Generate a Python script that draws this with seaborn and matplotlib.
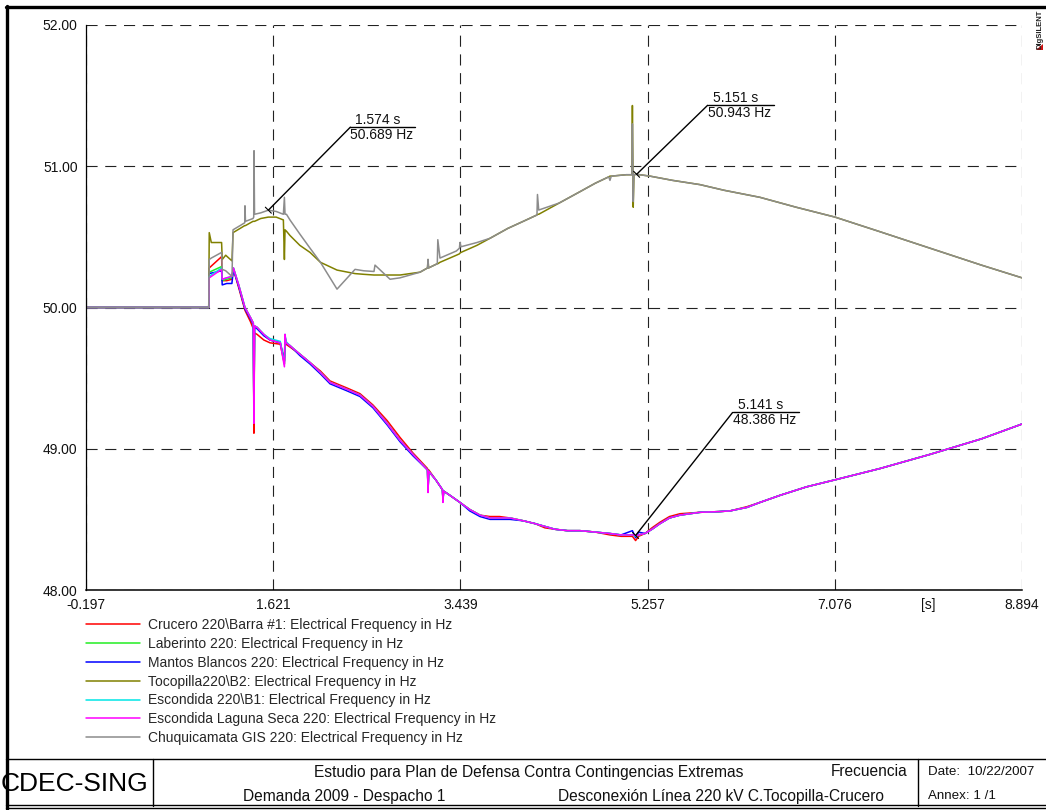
import matplotlib
matplotlib.use("Agg")
import matplotlib.pyplot as plt
import matplotlib.ticker as mticker
from matplotlib.lines import Line2D
from matplotlib.patches import Polygon
import pandas as pd
import seaborn as sns

# ---------------------------------------------------------------- data
SERIES = [
    "Crucero 220\\Barra #1: Electrical Frequency in Hz",
    "Laberinto 220: Electrical Frequency in Hz",
    "Mantos Blancos 220: Electrical Frequency in Hz",
    "Tocopilla220\\B2: Electrical Frequency in Hz",
    "Escondida 220\\B1: Electrical Frequency in Hz",
    "Escondida Laguna Seca 220: Electrical Frequency in Hz",
    "Chuquicamata GIS 220: Electrical Frequency in Hz",
]
COLORS = ["#ff0000", "#22ee22", "#0000ff", "#808000", "#00e5e5", "#ff00ff", "#8c8c8c"]

# time base (s) of the southern buses (falling frequency)
T_LOW = [-0.197, 0.995, 1.000, 1.060, 1.120, 1.126, 1.170, 1.220, 1.235, 1.290,
         1.347, 1.400, 1.428, 1.434, 1.440, 1.464, 1.530, 1.590, 1.690, 1.730,
         1.736, 1.745, 1.784, 1.880, 1.979, 2.080, 2.173, 2.338, 2.464, 2.590,
         2.727, 2.853, 2.979, 3.120, 3.125, 3.132, 3.200, 3.265, 3.270, 3.277,
         3.338, 3.435, 3.530, 3.630, 3.727, 3.820, 3.921, 4.050, 4.164, 4.260,
         4.358, 4.480, 4.601, 4.750, 4.892, 5.000, 5.110, 5.141, 5.170, 5.232,
         5.300, 5.378, 5.470, 5.572, 5.766, 5.950, 6.058, 6.223, 6.349, 6.543,
         6.800, 7.078, 7.515, 8.000, 8.500, 8.894]

F_CRUCERO = [50.00, 50.00, 50.28, 50.32, 50.36, 50.19, 50.19, 50.20, 50.27, 50.13,
             49.98, 49.90, 49.85, 49.11, 49.82, 49.81, 49.77, 49.75, 49.74, 49.60,
             49.78, 49.74, 49.72, 49.67, 49.61, 49.55, 49.48, 49.43, 49.39, 49.31,
             49.20, 49.08, 48.97, 48.86, 48.70, 48.85, 48.78, 48.71, 48.64, 48.70,
             48.67, 48.62, 48.57, 48.53, 48.52, 48.52, 48.51, 48.49, 48.47, 48.44,
             48.43, 48.42, 48.42, 48.41, 48.39, 48.38, 48.38, 48.35, 48.38, 48.40,
             48.44, 48.48, 48.52, 48.54, 48.55, 48.555, 48.56, 48.59, 48.62, 48.67,
             48.73, 48.78, 48.86, 48.96, 49.07, 49.175]

F_LABERINTO = [50.00, 50.00, 50.25, 50.27, 50.29, 50.19, 50.20, 50.21, 50.28, 50.15,
               50.00, 49.93, 49.89, 49.20, 49.87, 49.86, 49.81, 49.77, 49.75, 49.62,
               49.80, 49.75, 49.73, 49.67, 49.61, 49.54, 49.47, 49.42, 49.38, 49.30,
               49.18, 49.06, 48.96, 48.85, 48.72, 48.84, 48.78, 48.71, 48.65, 48.70,
               48.67, 48.62, 48.57, 48.53, 48.51, 48.51, 48.51, 48.49, 48.47, 48.45,
               48.43, 48.42, 48.42, 48.41, 48.40, 48.39, 48.39, 48.38, 48.39, 48.40,
               48.43, 48.47, 48.51, 48.53, 48.55, 48.555, 48.56, 48.585, 48.62, 48.67,
               48.73, 48.78, 48.86, 48.96, 49.07, 49.175]

F_MANTOS = [50.00, 50.00, 50.24, 50.25, 50.26, 50.16, 50.17, 50.17, 50.27, 50.14,
            49.99, 49.92, 49.88, 49.22, 49.86, 49.85, 49.80, 49.77, 49.75, 49.62,
            49.80, 49.75, 49.73, 49.66, 49.60, 49.53, 49.46, 49.41, 49.37, 49.29,
            49.17, 49.05, 48.95, 48.85, 48.70, 48.84, 48.78, 48.71, 48.64, 48.70,
            48.67, 48.62, 48.56, 48.52, 48.50, 48.50, 48.50, 48.49, 48.47, 48.45,
            48.43, 48.42, 48.42, 48.41, 48.40, 48.39, 48.42, 48.37, 48.41, 48.40,
            48.43, 48.47, 48.51, 48.53, 48.55, 48.555, 48.56, 48.585, 48.62, 48.67,
            48.73, 48.78, 48.86, 48.96, 49.07, 49.175]

F_ESCONDIDA = [50.00, 50.00, 50.22, 50.25, 50.28, 50.20, 50.21, 50.22, 50.28, 50.15,
               50.00, 49.93, 49.89, 49.19, 49.87, 49.86, 49.81, 49.78, 49.76, 49.60,
               49.81, 49.76, 49.73, 49.67, 49.61, 49.54, 49.47, 49.42, 49.38, 49.30,
               49.18, 49.06, 48.96, 48.85, 48.70, 48.84, 48.78, 48.71, 48.63, 48.70,
               48.67, 48.62, 48.57, 48.53, 48.51, 48.51, 48.51, 48.49, 48.47, 48.45,
               48.43, 48.42, 48.42, 48.41, 48.40, 48.39, 48.39, 48.38, 48.39, 48.40,
               48.43, 48.47, 48.51, 48.53, 48.55, 48.555, 48.56, 48.585, 48.62, 48.67,
               48.73, 48.78, 48.86, 48.96, 49.07, 49.175]

F_LAGUNA = [50.00, 50.00, 50.21, 50.24, 50.27, 50.20, 50.21, 50.22, 50.28, 50.15,
            50.00, 49.93, 49.89, 49.18, 49.87, 49.86, 49.81, 49.77, 49.75, 49.58,
            49.81, 49.75, 49.73, 49.67, 49.61, 49.54, 49.47, 49.42, 49.38, 49.30,
            49.18, 49.06, 48.96, 48.85, 48.69, 48.84, 48.78, 48.71, 48.62, 48.70,
            48.67, 48.62, 48.57, 48.53, 48.51, 48.51, 48.51, 48.49, 48.47, 48.45,
            48.43, 48.42, 48.42, 48.41, 48.40, 48.39, 48.39, 48.386, 48.39, 48.40,
            48.43, 48.47, 48.51, 48.53, 48.55, 48.555, 48.56, 48.585, 48.62, 48.67,
            48.73, 48.78, 48.86, 48.96, 49.07, 49.175]

# time base (s) of the northern buses (rising frequency)
T_UP = [-0.197, 0.995, 1.000, 1.020, 1.120, 1.126, 1.160, 1.190, 1.221, 1.231,
        1.300, 1.345, 1.347, 1.352, 1.425, 1.432, 1.435, 1.440, 1.500, 1.574,
        1.650, 1.720, 1.730, 1.736, 1.750, 1.784, 1.880, 1.979, 2.080, 2.241,
        2.416, 2.500, 2.600, 2.610, 2.756, 2.853, 3.047, 3.120, 3.125, 3.130,
        3.215, 3.220, 3.241, 3.400, 3.430, 3.435, 3.445, 3.600, 3.727, 3.900,
        4.050, 4.183, 4.188, 4.200, 4.400, 4.601, 4.750, 4.880, 4.892, 4.905,
        5.050, 5.105, 5.110, 5.118, 5.125, 5.151, 5.281, 5.500, 5.766, 6.000,
        6.349, 6.700, 7.078, 7.500, 8.000, 8.500, 8.894]

F_TOCOPILLA = [50.00, 50.00, 50.53, 50.46, 50.46, 50.34, 50.37, 50.35, 50.33, 50.53,
               50.56, 50.58, 50.58, 50.58, 50.61, 50.61, 50.61, 50.61, 50.63, 50.64,
               50.64, 50.62, 50.34, 50.55, 50.54, 50.51, 50.44, 50.39, 50.32, 50.265,
               50.24, 50.235, 50.23, 50.23, 50.23, 50.23, 50.25, 50.28, 50.34, 50.28,
               50.31, 50.31, 50.32, 50.37, 50.38, 50.385, 50.39, 50.44, 50.49, 50.56,
               50.61, 50.655, 50.66, 50.66, 50.74, 50.82, 50.88, 50.925, 50.93, 50.93,
               50.94, 50.94, 51.43, 50.71, 50.94, 50.943, 50.93, 50.90, 50.87, 50.83,
               50.78, 50.71, 50.64, 50.54, 50.42, 50.30, 50.21]

F_CHUQUI = [50.00, 50.00, 50.34, 50.35, 50.39, 50.27, 50.26, 50.24, 50.22, 50.55,
            50.58, 50.60, 50.72, 50.61, 50.63, 50.64, 51.11, 50.66, 50.67, 50.689,
            50.68, 50.66, 50.78, 50.66, 50.66, 50.62, 50.52, 50.42, 50.32, 50.13,
            50.27, 50.26, 50.255, 50.30, 50.20, 50.21, 50.25, 50.28, 50.34, 50.28,
            50.31, 50.48, 50.35, 50.40, 50.42, 50.46, 50.43, 50.46, 50.49, 50.56,
            50.61, 50.655, 50.80, 50.69, 50.74, 50.82, 50.88, 50.925, 50.90, 50.93,
            50.94, 50.94, 51.30, 50.75, 50.94, 50.943, 50.93, 50.90, 50.87, 50.83,
            50.78, 50.71, 50.64, 50.54, 50.42, 50.30, 50.21]

CURVES = [
    (T_LOW, F_CRUCERO), (T_LOW, F_LABERINTO), (T_LOW, F_MANTOS), (T_UP, F_TOCOPILLA),
    (T_LOW, F_ESCONDIDA), (T_LOW, F_LAGUNA), (T_UP, F_CHUQUI),
]

# axis ticks
X_TICKS = [-0.197, 1.621, 3.439, 5.257, 7.076, 8.894]
X_MINOR = [0.712, 2.530, 4.348, 6.1665, 7.985]
X_MINOR_LABELS = ["", "", "", "", "[s]"]
Y_TICKS = [48.0, 49.0, 50.0, 51.0, 52.0]
Y_MINOR = [48.5, 49.5, 50.5, 51.5]

# cursor readouts: (series index, time)
CURSORS = [(6, 1.574), (6, 5.151), (5, 5.141)]
CURSOR_OFFSETS = [(82, 83, 65), (71, 69, 66), (97, 123, 66)]  # px right, px up, underline length

# ---------------------------------------------------------------- style
W, H = 1046, 810
sns.set_theme(style="white")
plt.rcParams["font.family"] = ["Liberation Sans", "DejaVu Sans"]
plt.rcParams["lines.scale_dashes"] = False

fig = plt.figure(figsize=(W / 100, H / 100), dpi=100)
fig.patch.set_facecolor("white")


def fx(px):
    return px / W


def fy(py):
    return 1 - py / H


ax = fig.add_axes([fx(86), fy(590), fx(1022) - fx(86), fy(25) - fy(590)])
ax.set_facecolor("white")

frames = []
for name, (t, f) in zip(SERIES, CURVES):
    frames.append(pd.DataFrame({"t": t, "f": f, "series": name}))
df = pd.concat(frames, ignore_index=True)

sns.lineplot(data=df, x="t", y="f", hue="series", hue_order=SERIES,
             palette=dict(zip(SERIES, COLORS)), estimator=None, sort=False,
             linewidth=1.1, legend=False, ax=ax)

ax.set_xlim(X_TICKS[0], X_TICKS[-1])
ax.set_ylim(Y_TICKS[0], Y_TICKS[-1])
ax.set_xlabel("")
ax.set_ylabel("")

ax.set_xticks(X_TICKS)
ax.set_xticklabels([f"{v:.3f}" for v in X_TICKS])
ax.set_xticks(X_MINOR, minor=True)
ax.xaxis.set_minor_formatter(mticker.FixedFormatter(X_MINOR_LABELS))
ax.set_yticks(Y_TICKS)
ax.set_yticklabels([f"{v:.2f}" for v in Y_TICKS])
ax.set_yticks(Y_MINOR, minor=True)
ax.yaxis.set_minor_formatter(mticker.NullFormatter())

ax.tick_params(which="major", direction="in", length=5, width=0.9, color="black",
               labelsize=10, labelcolor="#111111", pad=6)
ax.tick_params(which="minor", direction="in", length=3.5, width=0.9, color="black",
               labelsize=10, labelcolor="#111111", pad=6)

ax.grid(True, which="major", color="#222222", linewidth=0.8, linestyle=(0, (8, 5.5)))
ax.set_axisbelow(True)
for side in ("top", "right"):
    ax.spines[side].set_visible(False)
ax.spines["left"].set_color("black")
ax.spines["left"].set_linewidth(0.9)
ax.spines["bottom"].set_color("black")
ax.spines["bottom"].set_linewidth(1.1)

# cursor readouts with leader line and underline
fig.canvas.draw()
for (si, t0), (dx, dy, ul) in zip(CURSORS, CURSOR_OFFSETS):
    tt, ff = CURVES[si]
    v = ff[tt.index(t0)]
    x0, y0 = ax.transData.transform((t0, v))
    x1, y1 = x0 + dx, y0 + dy
    fig.add_artist(Line2D([x0, x1], [y0, y1], transform=None, color="black", lw=1.0))
    fig.add_artist(Line2D([x1, x1 + ul], [y1, y1], transform=None, color="black", lw=1.0))
    fig.add_artist(Line2D([x0 - 3, x0 + 3], [y0 + 3, y0 - 3], transform=None, color="black", lw=0.8))
    fig.text(fx(x1 + 5), (y1 + 0.5) / H, f"{t0:.3f} s", fontsize=10, ha="left", va="bottom",
             color="#111111")
    fig.text(fx(x1), (y1 - 0.5) / H, f"{v:.3f} Hz", fontsize=10, ha="left", va="top",
             color="#111111")

# legend under the plot
handles = [Line2D([0], [0], color=c, lw=1.1) for c in COLORS]
fig.legend(handles, SERIES, loc="upper left", bbox_to_anchor=(fx(86), fy(618)),
           frameon=False, fontsize=10, handlelength=3.9, handletextpad=0.58,
           labelspacing=0.35, borderpad=0, borderaxespad=0)

# sheet frame and title block
def hline(y, x0, x1, lw):
    fig.add_artist(Line2D([fx(x0), fx(x1)], [fy(y), fy(y)], color="black", lw=lw))


def vline(x, y0, y1, lw):
    fig.add_artist(Line2D([fx(x), fx(x)], [fy(y0), fy(y1)], color="black", lw=lw))


hline(7, 6, W + 5, 2.4)
vline(7, 6, 809, 2.4)
hline(805, 6, W + 5, 1.0)
hline(808, 6, W + 5, 1.0)
hline(759, 6, W + 5, 1.0)
vline(153, 759, 806, 1.0)
vline(918, 759, 806, 1.0)

fig.text(fx(148), fy(784), "CDEC-SING", fontsize=19, ha="right", va="center", color="black")
narrow = ["Liberation Sans Narrow", "Liberation Sans", "DejaVu Sans"]
fig.text(fx(529), fy(772), "Estudio para Plan de Defensa Contra Contingencias Extremas",
         fontsize=11.2, ha="center", va="center", family=narrow, color="#111111")
fig.text(fx(907), fy(772), "Frecuencia", fontsize=11.2, ha="right", va="center",
         family=narrow, color="#111111")
fig.text(fx(243), fy(796), "Demanda 2009 - Despacho 1", fontsize=11.2, ha="left",
         va="center", family=narrow, color="#111111")
fig.text(fx(558), fy(796), "Desconexión Línea 220 kV C.Tocopilla-Crucero", fontsize=11.2,
         ha="left", va="center", family=narrow, color="#111111")
fig.text(fx(928), fy(772), "Date:  10/22/2007", fontsize=9.6, ha="left", va="center",
         family=narrow, color="#111111")
fig.text(fx(928), fy(796), "Annex: 1 /1", fontsize=9.6, ha="left", va="center",
         family=narrow, color="#111111")

# vendor mark in the top right corner
fig.text(fx(1040), fy(29), "DIgSILENT", fontsize=5.5, fontweight="bold", rotation=90,
         ha="center", va="center", color="#222222")
fig.add_artist(Polygon([(fx(1036), fy(50)), (fx(1043), fy(50)), (fx(1043), fy(44))],
                       closed=True, facecolor="#cc1111", edgecolor="none"))

fig.savefig("out.png", dpi=100, facecolor="white")
